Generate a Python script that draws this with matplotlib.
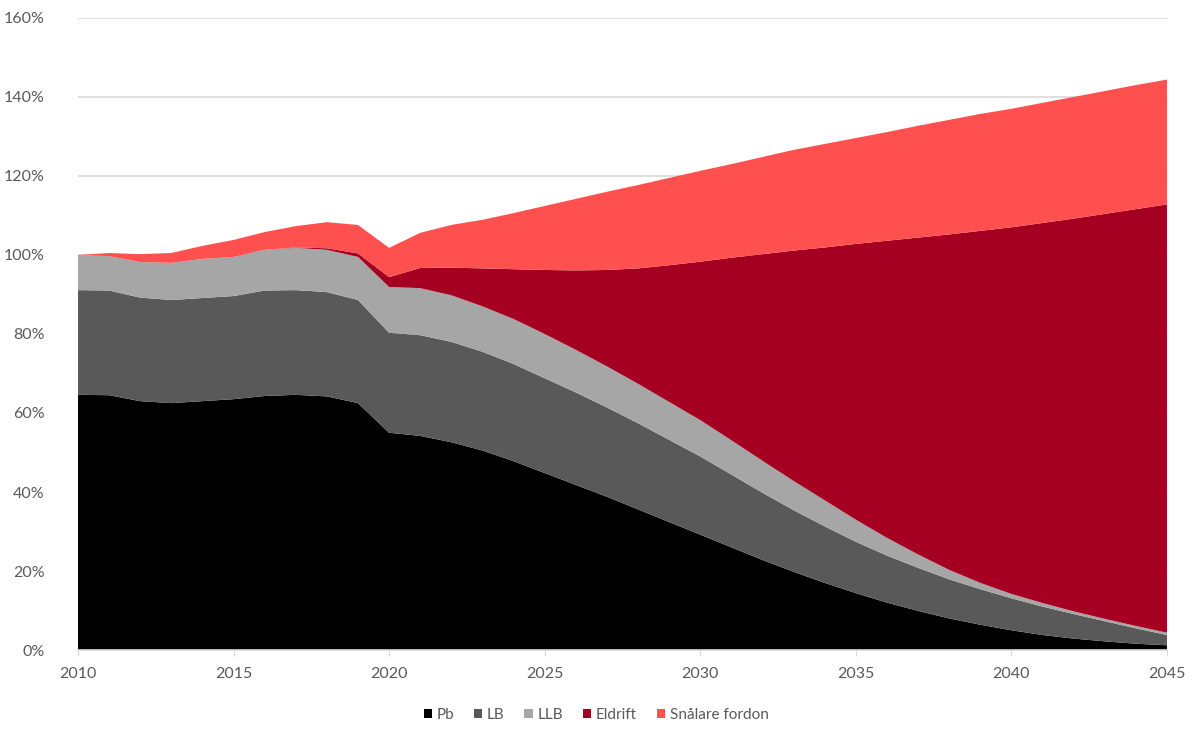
import matplotlib
import matplotlib.pyplot as plt
from matplotlib.patches import Rectangle
from matplotlib.ticker import FuncFormatter, MultipleLocator

matplotlib.use("Agg")

plt.rcParams["font.family"] = ["Lato", "DejaVu Sans"]

# Years and layer values (% of 2010 level)
years = list(range(2010, 2046))

pb = [64.6, 64.5, 63.0, 62.5, 63.0, 63.5, 64.3, 64.6, 64.2, 62.5,
      55.0, 54.2, 52.6, 50.5, 47.8, 44.8, 41.8, 38.8, 35.6, 32.4,
      29.2, 26.0, 22.8, 19.8, 17.0, 14.4, 12.0, 9.9, 8.0, 6.4,
      5.0, 3.8, 2.9, 2.2, 1.6, 1.2]
lb = [26.5, 26.5, 26.2, 26.1, 26.1, 26.1, 26.7, 26.5, 26.4, 26.1,
      25.3, 25.5, 25.4, 25.0, 24.6, 24.0, 23.4, 22.6, 21.8, 20.8,
      19.8, 18.4, 17.0, 15.6, 14.3, 13.0, 11.9, 10.9, 9.9, 9.0,
      8.1, 7.2, 6.2, 5.1, 3.9, 2.6]
llb = [8.9, 8.7, 9.0, 9.4, 9.9, 9.9, 10.3, 10.7, 10.7, 10.9,
       11.6, 11.9, 11.8, 11.5, 11.4, 11.2, 10.8, 10.4, 10.0, 9.6,
       9.2, 8.7, 8.1, 7.4, 6.6, 5.6, 4.5, 3.4, 2.4, 1.6,
       1.1, 0.9, 0.7, 0.6, 0.6, 0.6]
eldrift = [0.0, 0.0, 0.0, 0.0, 0.0, 0.0, 0.0, 0.1, 0.4, 0.9,
           2.5, 5.1, 7.0, 9.6, 12.6, 16.2, 20.1, 24.4, 29.2, 34.6,
           40.1, 46.2, 52.3, 58.3, 64.0, 69.8, 75.2, 80.2, 84.9, 89.1,
           92.8, 96.2, 99.4, 102.5, 105.5, 108.4]
snalare = [0.0, 0.8, 2.0, 2.5, 3.3, 4.3, 4.5, 5.4, 6.6, 7.2,
           7.4, 8.9, 10.8, 12.3, 14.2, 16.2, 18.1, 19.8, 21.1, 22.1,
           23.0, 23.7, 24.6, 25.5, 26.2, 26.8, 27.5, 28.3, 29.0, 29.6,
           30.0, 30.4, 30.8, 31.1, 31.4, 31.6]

labels = ["Pb", "LB", "LLB", "Eldrift", "Snålare fordon"]
colors = ["#000000", "#595959", "#a6a6a6", "#a50021", "#ff5050"]

TICK_COLOR = "#595959"
GRID_COLOR = "#d9d9d9"

fig = plt.figure(figsize=(11.92, 7.35), dpi=100)
ax = fig.add_axes([0.0654, 0.1156, 0.9136, 0.86])

ax.stackplot(years, pb, lb, llb, eldrift, snalare, colors=colors,
             linewidth=0, zorder=2)

ax.set_xlim(2010, 2045)
ax.set_ylim(0, 160)
ax.yaxis.set_major_locator(MultipleLocator(20))
ax.xaxis.set_major_locator(MultipleLocator(5))
ax.yaxis.set_major_formatter(FuncFormatter(lambda v, _: f"{v:.0f}%"))

ax.grid(axis="y", color=GRID_COLOR, linewidth=1.2, zorder=0)
ax.set_axisbelow(True)
for side in ["left", "top", "right"]:
    ax.spines[side].set_visible(False)
ax.spines["bottom"].set_color(GRID_COLOR)
ax.spines["bottom"].set_linewidth(1.2)

ax.tick_params(axis="y", length=0, pad=24, labelsize=11.5, labelcolor=TICK_COLOR)
ax.tick_params(axis="x", length=4, color=GRID_COLOR, pad=8, labelsize=11.5,
               labelcolor=TICK_COLOR)

handles = [Rectangle((0, 0), 1, 1, facecolor=c) for c in colors]
fig.legend(handles, labels, loc="center", bbox_to_anchor=(0.5, 0.027),
           ncol=5, frameon=False, fontsize=11, handlelength=0.55,
           handleheight=0.55, handletextpad=0.3, columnspacing=1.3,
           labelcolor=TICK_COLOR)

fig.savefig("out.png", dpi=100)
plt.close(fig)
